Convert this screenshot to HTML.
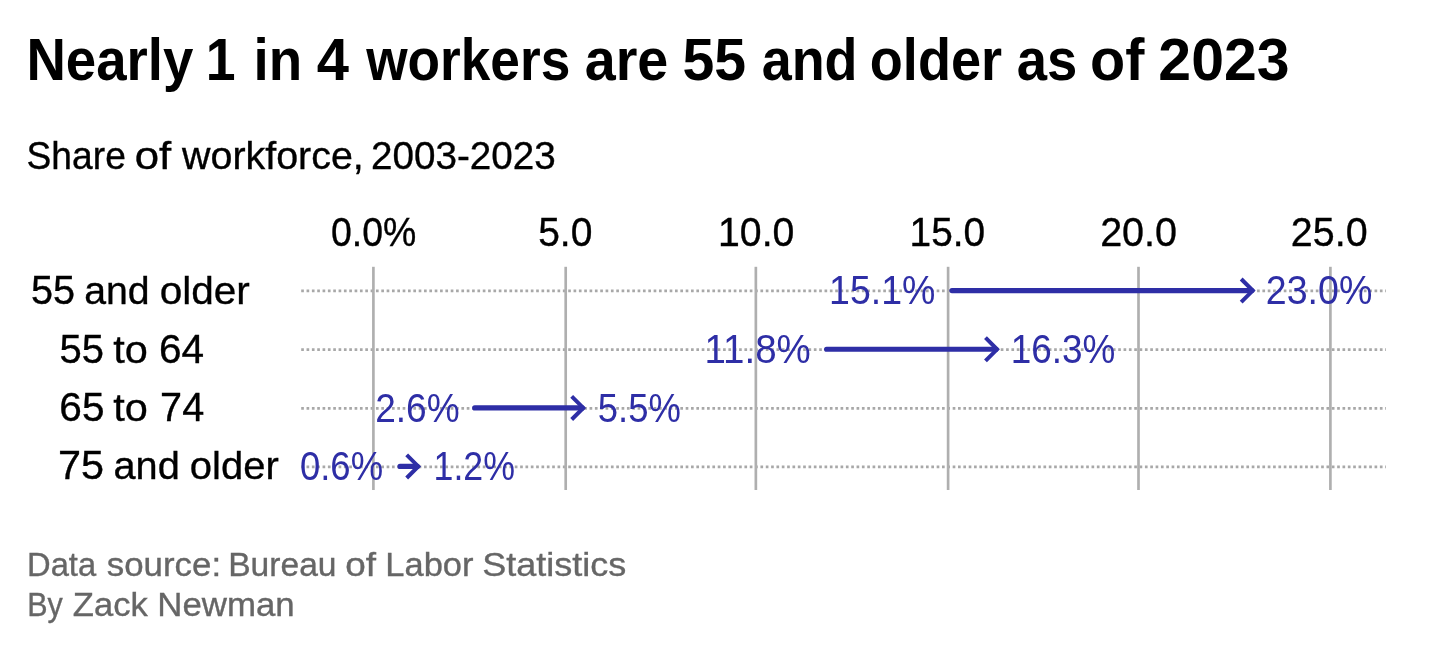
<!DOCTYPE html>
<html><head><meta charset="utf-8"><title>Nearly 1 in 4 workers are 55 and older as of 2023</title>
<style>html,body{margin:0;padding:0;background:#fff}body{width:1440px;height:651px;overflow:hidden}svg{display:block;will-change:transform}text{font-family:"Liberation Sans",sans-serif}</style></head><body>
<svg width="1440" height="651" viewBox="0 0 1440 651">
<rect width="1440" height="651" fill="#fff"/>
<g id="grid">
<line x1="301.2" x2="1386" y1="290.9" y2="290.9" stroke="#a8a8a8" stroke-width="2.67" stroke-dasharray="2.67 2.67"/>
<line x1="301.2" x2="1386" y1="349.6" y2="349.6" stroke="#a8a8a8" stroke-width="2.67" stroke-dasharray="2.67 2.67"/>
<line x1="301.2" x2="1386" y1="408.3" y2="408.3" stroke="#a8a8a8" stroke-width="2.67" stroke-dasharray="2.67 2.67"/>
<line x1="301.2" x2="1386" y1="466.8" y2="466.8" stroke="#a8a8a8" stroke-width="2.67" stroke-dasharray="2.67 2.67"/>
<line x1="373.4" x2="373.4" y1="266.8" y2="490" stroke="#afafaf" stroke-width="2.67"/>
<line x1="565.7" x2="565.7" y1="266.8" y2="490" stroke="#afafaf" stroke-width="2.67"/>
<line x1="755.85" x2="755.85" y1="266.8" y2="490" stroke="#afafaf" stroke-width="2.67"/>
<line x1="948.1" x2="948.1" y1="266.8" y2="490" stroke="#afafaf" stroke-width="2.67"/>
<line x1="1138.5" x2="1138.5" y1="266.8" y2="490" stroke="#afafaf" stroke-width="2.67"/>
<line x1="1330.4" x2="1330.4" y1="266.8" y2="490" stroke="#afafaf" stroke-width="2.67"/>
</g>
<g id="arrows" fill="none" stroke="#2e2ea6" stroke-width="5.33">
<line x1="951.92" x2="1251.77" y1="290.6" y2="290.6" stroke-width="5.1" stroke-linecap="round"/>
<polyline points="1241.17,279.00 1252.77,290.6 1241.17,302.20" stroke-width="4" stroke-linejoin="miter" stroke-linecap="butt"/>
<line x1="826.57" x2="996.07" y1="349.3" y2="349.3" stroke-width="5.1" stroke-linecap="round"/>
<polyline points="985.47,337.70 997.07,349.3 985.47,360.90" stroke-width="4" stroke-linejoin="miter" stroke-linecap="butt"/>
<line x1="474.67" x2="582.27" y1="407.9" y2="407.9" stroke-width="5.1" stroke-linecap="round"/>
<polyline points="571.67,396.30 583.27,407.9 571.67,419.50" stroke-width="4" stroke-linejoin="miter" stroke-linecap="butt"/>
<line x1="399.97" x2="417.27" y1="466.4" y2="466.4" stroke-width="5.1" stroke-linecap="round"/>
<polyline points="406.67,454.80 418.27,466.4 406.67,478.00" stroke-width="4" stroke-linejoin="miter" stroke-linecap="butt"/>
</g>
<g id="texts">
<text id="t0" x="26.41" y="80" font-size="59.5" font-weight="bold" fill="#000" textLength="167.03" lengthAdjust="spacingAndGlyphs">Nearly</text>
<text id="t1" x="205.74" y="80" font-size="59.5" font-weight="bold" fill="#000" textLength="29.80" lengthAdjust="spacingAndGlyphs">1</text>
<text id="t2" x="253.55" y="80" font-size="59.5" font-weight="bold" fill="#000" textLength="48.66" lengthAdjust="spacingAndGlyphs">in</text>
<text id="t3" x="316.80" y="80" font-size="59.5" font-weight="bold" fill="#000" textLength="32.22" lengthAdjust="spacingAndGlyphs">4</text>
<text id="t4" x="366.20" y="80" font-size="59.5" font-weight="bold" fill="#000" textLength="204.05" lengthAdjust="spacingAndGlyphs">workers</text>
<text id="t5" x="584.73" y="80" font-size="59.5" font-weight="bold" fill="#000" textLength="83.59" lengthAdjust="spacingAndGlyphs">are</text>
<text id="t6" x="682.56" y="80" font-size="59.5" font-weight="bold" fill="#000" textLength="63.61" lengthAdjust="spacingAndGlyphs">55</text>
<text id="t7" x="761.67" y="80" font-size="59.5" font-weight="bold" fill="#000" textLength="95.87" lengthAdjust="spacingAndGlyphs">and</text>
<text id="t8" x="869.83" y="80" font-size="59.5" font-weight="bold" fill="#000" textLength="132.26" lengthAdjust="spacingAndGlyphs">older</text>
<text id="t9" x="1016.73" y="80" font-size="59.5" font-weight="bold" fill="#000" textLength="60.55" lengthAdjust="spacingAndGlyphs">as</text>
<text id="t10" x="1090.09" y="80" font-size="59.5" font-weight="bold" fill="#000" textLength="54.34" lengthAdjust="spacingAndGlyphs">of</text>
<text id="t11" x="1158.36" y="80" font-size="59.5" font-weight="bold" fill="#000" textLength="131.26" lengthAdjust="spacingAndGlyphs">2023</text>
<text id="s0" x="26.55" y="169.1" font-size="38.4" font-weight="normal" fill="#000" stroke="#000" stroke-width="0.35" textLength="99.29" lengthAdjust="spacingAndGlyphs">Share</text>
<text id="s1" x="134.73" y="169.1" font-size="38.4" font-weight="normal" fill="#000" stroke="#000" stroke-width="0.35" textLength="36.47" lengthAdjust="spacingAndGlyphs">of</text>
<text id="s2" x="182.10" y="169.1" font-size="38.4" font-weight="normal" fill="#000" stroke="#000" stroke-width="0.35" textLength="181.70" lengthAdjust="spacingAndGlyphs">workforce,</text>
<text id="s3" x="370.90" y="169.1" font-size="39.5" font-weight="normal" fill="#000" stroke="#000" stroke-width="0.35" textLength="184.85" lengthAdjust="spacingAndGlyphs">2003-2023</text>
<text id="ax0" x="331.03" y="245.5" font-size="40" font-weight="normal" fill="#000" stroke="#000" stroke-width="0.35" textLength="85.31" lengthAdjust="spacingAndGlyphs">0.0%</text>
<text id="ax1" x="538.13" y="245.5" font-size="40" font-weight="normal" fill="#000" stroke="#000" stroke-width="0.35" textLength="54.23" lengthAdjust="spacingAndGlyphs">5.0</text>
<text id="ax2" x="718.06" y="245.5" font-size="40" font-weight="normal" fill="#000" stroke="#000" stroke-width="0.35" textLength="76.31" lengthAdjust="spacingAndGlyphs">10.0</text>
<text id="ax3" x="909.58" y="245.5" font-size="40" font-weight="normal" fill="#000" stroke="#000" stroke-width="0.35" textLength="75.57" lengthAdjust="spacingAndGlyphs">15.0</text>
<text id="ax4" x="1100.13" y="245.5" font-size="40" font-weight="normal" fill="#000" stroke="#000" stroke-width="0.35" textLength="76.92" lengthAdjust="spacingAndGlyphs">20.0</text>
<text id="ax5" x="1290.87" y="245.5" font-size="40" font-weight="normal" fill="#000" stroke="#000" stroke-width="0.35" textLength="76.69" lengthAdjust="spacingAndGlyphs">25.0</text>
<text id="la0" x="30.88" y="303.75" font-size="40.5" font-weight="normal" fill="#000" stroke="#000" stroke-width="0.35" textLength="44.17" lengthAdjust="spacingAndGlyphs">55</text>
<text id="la1" x="84.21" y="303.75" font-size="39.2" font-weight="normal" fill="#000" stroke="#000" stroke-width="0.35" textLength="65.48" lengthAdjust="spacingAndGlyphs">and</text>
<text id="la2" x="159.76" y="303.75" font-size="39.2" font-weight="normal" fill="#000" stroke="#000" stroke-width="0.35" textLength="90.09" lengthAdjust="spacingAndGlyphs">older</text>
<text id="lb0" x="59.57" y="362.5" font-size="40.5" font-weight="normal" fill="#000" stroke="#000" stroke-width="0.35" textLength="44.52" lengthAdjust="spacingAndGlyphs">55</text>
<text id="lb1" x="113.36" y="362.5" font-size="39.2" font-weight="normal" fill="#000" stroke="#000" stroke-width="0.35" textLength="34.57" lengthAdjust="spacingAndGlyphs">to</text>
<text id="lb2" x="158.96" y="362.5" font-size="40.5" font-weight="normal" fill="#000" stroke="#000" stroke-width="0.35" textLength="45.09" lengthAdjust="spacingAndGlyphs">64</text>
<text id="lc0" x="59.32" y="421" font-size="40.5" font-weight="normal" fill="#000" stroke="#000" stroke-width="0.35" textLength="45.14" lengthAdjust="spacingAndGlyphs">65</text>
<text id="lc1" x="113.36" y="421" font-size="39.2" font-weight="normal" fill="#000" stroke="#000" stroke-width="0.35" textLength="34.57" lengthAdjust="spacingAndGlyphs">to</text>
<text id="lc2" x="160.11" y="421" font-size="40.5" font-weight="normal" fill="#000" stroke="#000" stroke-width="0.35" textLength="44.05" lengthAdjust="spacingAndGlyphs">74</text>
<text id="ld0" x="57.99" y="479.25" font-size="40.5" font-weight="normal" fill="#000" stroke="#000" stroke-width="0.35" textLength="46.06" lengthAdjust="spacingAndGlyphs">75</text>
<text id="ld1" x="113.46" y="479.25" font-size="39.2" font-weight="normal" fill="#000" stroke="#000" stroke-width="0.35" textLength="66.30" lengthAdjust="spacingAndGlyphs">and</text>
<text id="ld2" x="189.87" y="479.25" font-size="39.2" font-weight="normal" fill="#000" stroke="#000" stroke-width="0.35" textLength="88.82" lengthAdjust="spacingAndGlyphs">older</text>
<text id="v1a" x="829.12" y="303.8" font-size="40.5" font-weight="normal" fill="#2e2ea6" textLength="106.29" lengthAdjust="spacingAndGlyphs">15.1%</text>
<text id="v1b" x="1265.81" y="303.8" font-size="40.5" font-weight="normal" fill="#2e2ea6" textLength="106.55" lengthAdjust="spacingAndGlyphs">23.0%</text>
<text id="v2a" x="704.54" y="362.55" font-size="40.5" font-weight="normal" fill="#2e2ea6" textLength="106.26" lengthAdjust="spacingAndGlyphs">11.8%</text>
<text id="v2b" x="1010.77" y="362.55" font-size="40.5" font-weight="normal" fill="#2e2ea6" textLength="104.61" lengthAdjust="spacingAndGlyphs">16.3%</text>
<text id="v3a" x="375.15" y="421.55" font-size="40.5" font-weight="normal" fill="#2e2ea6" textLength="84.48" lengthAdjust="spacingAndGlyphs">2.6%</text>
<text id="v3b" x="597.84" y="421.55" font-size="40.5" font-weight="normal" fill="#2e2ea6" textLength="83.16" lengthAdjust="spacingAndGlyphs">5.5%</text>
<text id="v4a" x="299.97" y="480.05" font-size="40.5" font-weight="normal" fill="#2e2ea6" textLength="83.09" lengthAdjust="spacingAndGlyphs">0.6%</text>
<text id="v4b" x="433.51" y="480.05" font-size="40.5" font-weight="normal" fill="#2e2ea6" textLength="81.48" lengthAdjust="spacingAndGlyphs">1.2%</text>
<text id="fa0" x="27.08" y="576" font-size="32.5" font-weight="normal" fill="#666" stroke="#666" stroke-width="0.35" textLength="69.07" lengthAdjust="spacingAndGlyphs">Data</text>
<text id="fa1" x="106.79" y="576" font-size="32.5" font-weight="normal" fill="#666" stroke="#666" stroke-width="0.35" textLength="114.32" lengthAdjust="spacingAndGlyphs">source:</text>
<text id="fa2" x="228.20" y="576" font-size="32.5" font-weight="normal" fill="#666" stroke="#666" stroke-width="0.35" textLength="108.33" lengthAdjust="spacingAndGlyphs">Bureau</text>
<text id="fa3" x="345.20" y="576" font-size="32.5" font-weight="normal" fill="#666" stroke="#666" stroke-width="0.35" textLength="30.79" lengthAdjust="spacingAndGlyphs">of</text>
<text id="fa4" x="385.32" y="576" font-size="32.5" font-weight="normal" fill="#666" stroke="#666" stroke-width="0.35" textLength="88.12" lengthAdjust="spacingAndGlyphs">Labor</text>
<text id="fa5" x="482.23" y="576" font-size="32.5" font-weight="normal" fill="#666" stroke="#666" stroke-width="0.35" textLength="144.19" lengthAdjust="spacingAndGlyphs">Statistics</text>
<text id="fb0" x="27.23" y="615.5" font-size="32.5" font-weight="normal" fill="#666" stroke="#666" stroke-width="0.35" textLength="35.53" lengthAdjust="spacingAndGlyphs">By</text>
<text id="fb1" x="72.78" y="615.5" font-size="32.5" font-weight="normal" fill="#666" stroke="#666" stroke-width="0.35" textLength="75.01" lengthAdjust="spacingAndGlyphs">Zack</text>
<text id="fb2" x="157.34" y="615.5" font-size="32.5" font-weight="normal" fill="#666" stroke="#666" stroke-width="0.35" textLength="137.40" lengthAdjust="spacingAndGlyphs">Newman</text>
</g></svg></body></html>
